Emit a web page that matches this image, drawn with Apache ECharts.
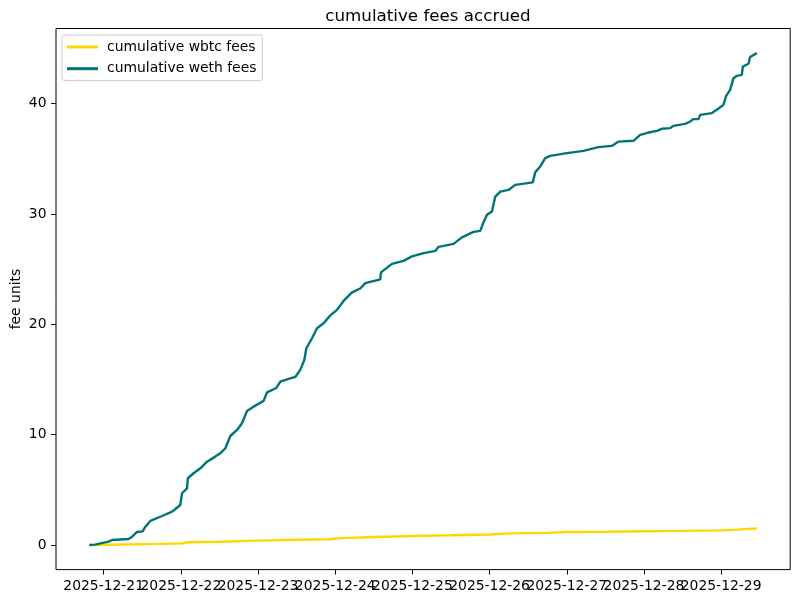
<!DOCTYPE html>
<html>
<head>
<meta charset="utf-8">
<script src="https://cdn.jsdelivr.net/npm/echarts@6/dist/echarts.min.js"></script>
<style>
html,body{margin:0;padding:0;background:#fff;}
#chart{width:810px;height:601px;}
</style>
</head>
<body>
<div id="chart"></div>
<script>
// ---- data ----
const tickLabels = ['2025-12-21','2025-12-22','2025-12-23','2025-12-24','2025-12-25','2025-12-26','2025-12-27','2025-12-28','2025-12-29'];
const yTicks = [0, 10, 20, 30, 40];

const wethTimes = [
'2025-12-20 19:33','2025-12-20 21:25','2025-12-20 22:58','2025-12-21 01:33','2025-12-21 02:37',
'2025-12-21 07:46','2025-12-21 08:50','2025-12-21 10:23','2025-12-21 12:07','2025-12-21 12:58',
'2025-12-21 14:31','2025-12-21 18:09','2025-12-21 21:16','2025-12-21 22:17','2025-12-21 23:50',
'2025-12-22 00:22','2025-12-22 01:55','2025-12-22 02:10','2025-12-22 03:58','2025-12-22 06:04',
'2025-12-22 08:08','2025-12-22 10:43','2025-12-22 12:16','2025-12-22 13:50','2025-12-22 15:23',
'2025-12-22 17:28','2025-12-22 19:01','2025-12-22 20:34','2025-12-22 22:38','2025-12-23 01:44',
'2025-12-23 02:47','2025-12-23 05:41','2025-12-23 06:56','2025-12-23 09:30','2025-12-23 11:35',
'2025-12-23 13:08','2025-12-23 14:23','2025-12-23 15:01','2025-12-23 16:47','2025-12-23 18:20',
'2025-12-23 20:23','2025-12-23 22:28','2025-12-24 00:33','2025-12-24 02:36','2025-12-24 05:13',
'2025-12-24 07:47','2025-12-24 09:21','2025-12-24 14:01','2025-12-24 14:14','2025-12-24 17:39',
'2025-12-24 21:15','2025-12-24 23:52','2025-12-25 03:28','2025-12-25 07:06','2025-12-25 08:08',
'2025-12-25 12:47','2025-12-25 15:24','2025-12-25 19:01','2025-12-25 21:05','2025-12-25 22:07',
'2025-12-25 23:11','2025-12-26 00:44','2025-12-26 01:46','2025-12-26 03:19','2025-12-26 05:53',
'2025-12-26 07:58','2025-12-26 13:25','2025-12-26 14:11','2025-12-26 15:44','2025-12-26 17:18',
'2025-12-26 18:51','2025-12-27 00:02','2025-12-27 05:12','2025-12-27 09:52','2025-12-27 14:02',
'2025-12-27 16:05','2025-12-27 20:45','2025-12-27 22:50','2025-12-28 01:25','2025-12-28 04:01',
'2025-12-28 05:34','2025-12-28 08:09','2025-12-28 09:11','2025-12-28 12:49','2025-12-28 14:22',
'2025-12-28 15:24','2025-12-28 16:57','2025-12-28 17:29','2025-12-28 21:07','2025-12-28 22:40',
'2025-12-29 00:43','2025-12-29 01:34','2025-12-29 02:48','2025-12-29 03:50','2025-12-29 04:53',
'2025-12-29 06:26','2025-12-29 06:45','2025-12-29 08:29','2025-12-29 09:01','2025-12-29 11:06'
];
const wethValues = [
0.00,0.03,0.15,0.30,0.45,
0.54,0.75,1.18,1.24,1.66,
2.18,2.63,3.02,3.26,3.63,
4.69,5.14,6.05,6.50,6.95,
7.55,8.01,8.31,8.77,9.88,
10.43,11.03,12.15,12.54,13.06,
13.83,14.23,14.81,15.05,15.23,
15.87,16.77,17.83,18.74,19.65,
20.10,20.81,21.31,22.12,22.89,
23.25,23.73,24.07,24.71,25.48,
25.75,26.16,26.45,26.65,27.02,
27.29,27.88,28.38,28.47,29.24,
29.92,30.22,31.58,32.03,32.18,
32.64,32.86,33.77,34.30,35.06,
35.27,35.51,35.72,36.06,36.17,
36.56,36.63,37.17,37.38,37.53,
37.72,37.78,37.99,38.17,38.38,
38.60,38.60,38.98,39.14,39.44,
39.89,40.71,41.25,42.31,42.52,
42.61,43.36,43.61,44.22,44.58
];

const wbtcTimes = [
'2025-12-20 19:33','2025-12-21 06:00','2025-12-21 18:00','2025-12-22 00:22','2025-12-22 02:00',
'2025-12-22 12:00','2025-12-23 00:00','2025-12-23 12:00','2025-12-23 22:00','2025-12-24 02:00',
'2025-12-24 12:00','2025-12-25 00:00','2025-12-25 12:00','2025-12-26 00:00','2025-12-26 06:00',
'2025-12-26 18:00','2025-12-27 00:00','2025-12-27 12:00','2025-12-28 00:00','2025-12-28 12:00',
'2025-12-29 00:00','2025-12-29 06:00','2025-12-29 11:06'
];
const wbtcValues = [
0.00,0.05,0.10,0.15,0.25,
0.30,0.40,0.48,0.52,0.62,
0.72,0.82,0.88,0.95,1.05,
1.10,1.18,1.20,1.25,1.28,
1.33,1.42,1.50
];

// ---- helpers ----
function parseT(s) {
  const [d, t] = s.split(' ');
  const [Y, M, D] = d.split('-').map(Number);
  const [h, m] = (t || '00:00').split(':').map(Number);
  return Date.UTC(Y, M - 1, D, h, m);
}
const tickValues = tickLabels.map(parseT);
const ticksEven = tickValues.filter((v, i) => i % 2 === 0);
const ticksOdd = tickValues.filter((v, i) => i % 2 === 1);
const wethData = wethTimes.map((t, i) => [parseT(t), wethValues[i]]);
const wbtcData = wbtcTimes.map((t, i) => [parseT(t), wbtcValues[i]]);

const allX = wethData.concat(wbtcData).map(d => d[0]);
const allY = wethValues.concat(wbtcValues);
const xMinD = Math.min(...allX), xMaxD = Math.max(...allX);
const yMinD = Math.min(...allY), yMaxD = Math.max(...allY);
const xPad = (xMaxD - xMinD) * 0.05, yPad = (yMaxD - yMinD) * 0.05;

const FONT = 'DejaVu Sans';
function xAxisFor(ticks, show) {
  return {
    type: 'value', position: 'bottom', offset: 0,
    min: xMinD - xPad, max: xMaxD + xPad,
    splitLine: {show: false},
    axisLine: {show: false, onZero: false},
    axisTick: {show: true, length: 4.9, inside: false, customValues: ticks, lineStyle: {color: '#000', width: 1}},
    axisLabel: {
      customValues: ticks, margin: 9.5, hideOverlap: false,
      showMinLabel: true, showMaxLabel: true,
      fontFamily: FONT, fontSize: 13.9, color: '#000',
      formatter: function (v) { const i = tickValues.indexOf(v); return i >= 0 ? tickLabels[i] : ''; }
    }
  };
}

const chart = echarts.init(document.getElementById('chart'), null, {renderer: 'canvas'});
chart.setOption({
  animation: false,
  backgroundColor: '#ffffff',
  title: {
    text: 'cumulative fees accrued',
    left: 423, top: 3, textAlign: 'center',
    textStyle: {fontFamily: FONT, fontSize: 16.7, fontWeight: 'normal', color: '#000'}
  },
  legend: {
    orient: 'vertical',
    left: 62, top: 35,
    padding: [4, 6, 4, 5],
    itemWidth: 31, itemHeight: 3, itemGap: 5.7,
    icon: 'rect',
    backgroundColor: 'rgba(255,255,255,0.8)',
    borderColor: '#cccccc', borderWidth: 1, borderRadius: 3,
    textStyle: {fontFamily: FONT, fontSize: 13.9, color: '#000', lineHeight: 16, padding: [0, 0, 0, 4]},
    data: ['cumulative wbtc fees', 'cumulative weth fees']
  },
  grid: {
    left: 56, right: 19.8, top: 28.5, bottom: 31.4,
    outerBoundsMode: 'none', containLabel: false,
    show: true, borderColor: '#000', borderWidth: 1, backgroundColor: 'transparent'
  },
  xAxis: [xAxisFor(ticksEven), xAxisFor(ticksOdd)],
  yAxis: {
    type: 'value',
    min: yMinD - yPad, max: yMaxD + yPad,
    name: 'fee units', nameLocation: 'middle', nameGap: 33, nameMoveOverlap: false,
    nameTextStyle: {fontFamily: FONT, fontSize: 13.9, color: '#000'},
    splitLine: {show: false},
    axisLine: {show: false, onZero: false},
    axisTick: {show: true, length: 4.9, customValues: yTicks, lineStyle: {color: '#000', width: 1}},
    axisLabel: {
      customValues: yTicks, margin: 9.5, showMinLabel: true, showMaxLabel: true,
      fontFamily: FONT, fontSize: 13.9, color: '#000'
    }
  },
  series: [
    {
      name: 'cumulative wbtc fees', type: 'line', data: wbtcData, xAxisIndex: 0,
      showSymbol: false, symbol: 'none',
      lineStyle: {color: '#FFD700', width: 2.4}, itemStyle: {color: '#FFD700'}
    },
    {
      name: 'cumulative weth fees', type: 'line', data: wethData, xAxisIndex: 0,
      showSymbol: false, symbol: 'none',
      lineStyle: {color: '#007575', width: 2.4}, itemStyle: {color: '#007575'}
    }
  ]
});
</script>
</body>
</html>
